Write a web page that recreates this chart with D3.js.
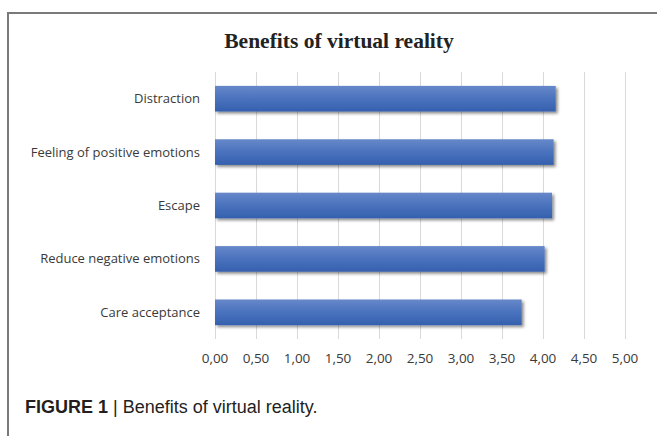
<!DOCTYPE html>
<html><head><meta charset="utf-8">
<script src="https://cdn.jsdelivr.net/npm/d3@7"></script>
<style>body{margin:0;background:#fff}svg{display:block}</style>
</head><body>
<script>
const categories = ["Distraction","Feeling of positive emotions","Escape","Reduce negative emotions","Care acceptance"];
const values = [4.155, 4.13, 4.11, 4.02, 3.74];
const tickValues = [0,0.5,1,1.5,2,2.5,3,3.5,4,4.5,5];
const title = "Benefits of virtual reality";
const captionBold = "FIGURE 1 ";
const captionBar = "|";
const captionText = " Benefits of virtual reality.";

const W = 657, H = 436;
const svg = d3.select("body").append("svg").attr("width", W).attr("height", H);
const defs = svg.append("defs");
const grad = defs.append("linearGradient").attr("id","barGrad").attr("x1",0).attr("y1",0).attr("x2",0).attr("y2",1);
grad.append("stop").attr("offset","0%").attr("stop-color","#6788ca");
grad.append("stop").attr("offset","50%").attr("stop-color","#4a72bd");
grad.append("stop").attr("offset","100%").attr("stop-color","#3560ae");
const f = defs.append("filter").attr("id","shadow").attr("x","-5%").attr("y","-30%").attr("width","115%").attr("height","170%");
f.append("feDropShadow").attr("dx",2).attr("dy",2).attr("stdDeviation",1.5).attr("flood-color","#000").attr("flood-opacity",0.45);

// frame
svg.append("line").attr("x1",7).attr("x2",657).attr("y1",13).attr("y2",13).attr("stroke","#7a7a7a").attr("stroke-width",2);
svg.append("line").attr("x1",8).attr("x2",8).attr("y1",12).attr("y2",436).attr("stroke","#7a7a7a").attr("stroke-width",2);

const x = d3.scaleLinear().domain([0,5]).range([215,625]);
const y = d3.scaleBand().domain(categories).range([72,339]).paddingInner(0.52).paddingOuter(0.26);

// grid
svg.append("g").selectAll("line").data(tickValues).join("line")
  .attr("x1",d=>Math.round(x(d))+0.5).attr("x2",d=>Math.round(x(d))+0.5)
  .attr("y1",72).attr("y2",339).attr("stroke","#d9d9d9").attr("stroke-width",1);

// title
svg.append("text").attr("x",339).attr("y",48).attr("text-anchor","middle")
  .attr("font-family","'Liberation Serif','Times New Roman',serif").attr("font-weight","bold")
  .attr("font-size",21.5).attr("fill","#222").text(title);

// bars
svg.append("g").selectAll("rect").data(categories).join("rect")
  .attr("x",x(0)).attr("y",d=>y(d)).attr("width",(d,i)=>x(values[i])-x(0)).attr("height",y.bandwidth())
  .attr("fill","url(#barGrad)").attr("filter","url(#shadow)");

const font = "'Open Sans',sans-serif";
// category labels
svg.append("g").selectAll("text").data(categories).join("text")
  .attr("x",200).attr("y",d=>y(d)+y.bandwidth()/2).attr("dy","0.35em").attr("text-anchor","end")
  .attr("font-family",font).attr("font-size",13).attr("fill","#3a3a3a").text(d=>d);

// tick labels
const fmt = d => d3.format(".2f")(d).replace(".",",");
svg.append("g").selectAll("text").data(tickValues).join("text")
  .attr("x",d=>x(d)).attr("y",358).attr("dy","0.35em").attr("text-anchor","middle")
  .attr("font-family",font).attr("font-size",13.5).attr("fill","#3a3a3a").text(fmt);

// caption
const cap = svg.append("text").attr("x",25).attr("y",413)
  .attr("font-family","'Liberation Sans',Arial,sans-serif").attr("font-size",18).attr("fill","#231f20");
cap.append("tspan").attr("font-weight","bold").text(captionBold);
cap.append("tspan").text(captionBar + captionText);
</script>
</body></html>
